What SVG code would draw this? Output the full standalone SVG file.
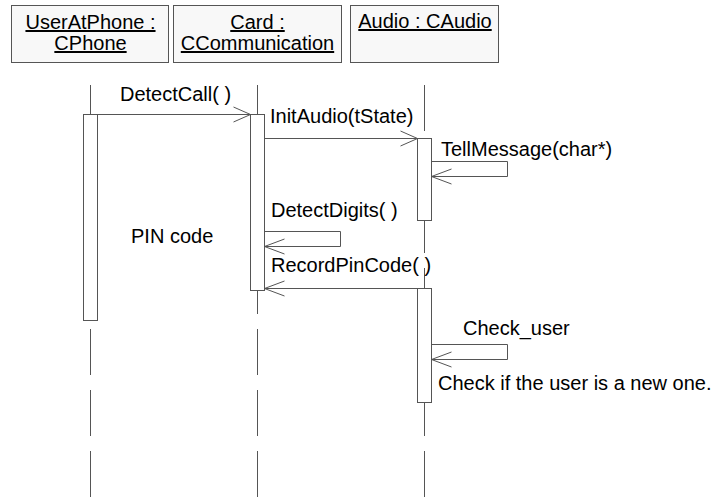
<svg xmlns="http://www.w3.org/2000/svg" width="717" height="497" viewBox="0 0 717 497">
  <style>
    .obj { fill: #f8f8f8; stroke: #555; stroke-width: 1; }
    .lbl { font-family: "Liberation Sans", Arial, sans-serif; font-size: 20px; fill: #000; }
    .name { text-decoration: underline; text-anchor: middle; }
    .life { stroke: #555; stroke-width: 1; stroke-dasharray: 46 15; fill: none; }
    .act { fill: #fff; stroke: #555; stroke-width: 1; }
    .msg { stroke: #555; stroke-width: 1; fill: none; }
    .head { stroke: #555; stroke-width: 1; fill: none; }
  </style>

  <!-- lifelines (dashed), drawn under activation bars -->
  <g id="lifelines">
    <line class="life" x1="90.5" y1="85" x2="90.5" y2="497"/>
    <line class="life" x1="257.5" y1="85" x2="257.5" y2="497"/>
    <line class="life" x1="424.5" y1="85" x2="424.5" y2="497"/>
  </g>

  <!-- objects -->
  <g id="userAtPhone">
    <rect class="obj" x="11.5" y="5.5" width="157" height="57"/>
    <text class="lbl name" x="90.5" y="29">UserAtPhone :</text>
    <text class="lbl name" x="90.5" y="50">CPhone</text>
    <rect class="act" x="83.5" y="114.5" width="14" height="206"/>
  </g>

  <g id="card">
    <rect class="obj" x="173.5" y="5.5" width="168" height="57"/>
    <text class="lbl name" x="257.5" y="29">Card :</text>
    <text class="lbl name" x="257.5" y="50">CCommunication</text>
    <rect class="act" x="250.5" y="114.5" width="14" height="176"/>
  </g>

  <g id="audio">
    <rect class="obj" x="350.5" y="5.5" width="148" height="57"/>
    <text class="lbl name" x="425" y="28">Audio : CAudio</text>
    <rect class="act" x="417.5" y="138.5" width="14" height="82"/>
    <rect class="act" x="417.5" y="288.5" width="14" height="114"/>
  </g>

  <!-- messages -->
  <g id="connectors">
    <!-- DetectCall( ) -->
    <line class="msg" x1="97.5" y1="114.5" x2="250.5" y2="114.5"/>
    <polyline class="head" points="233.5,107 250.5,114.5 233.5,122"/>
    <!-- InitAudio(tState) -->
    <line class="msg" x1="264.5" y1="138.5" x2="417.5" y2="138.5"/>
    <polyline class="head" points="400.5,131 417.5,138.5 400.5,146"/>
    <!-- TellMessage(char*) self call -->
    <polyline class="msg" points="431.5,161.5 507.5,161.5 507.5,176.5 431.5,176.5"/>
    <polyline class="head" points="451.5,169 431.5,176.5 451.5,184"/>
    <!-- DetectDigits( ) self call -->
    <polyline class="msg" points="264.5,231.5 340.5,231.5 340.5,246.5 264.5,246.5"/>
    <polyline class="head" points="284.5,239 264.5,246.5 284.5,254"/>
    <!-- RecordPinCode( ) return -->
    <line class="msg" x1="417.5" y1="288.5" x2="264.5" y2="288.5"/>
    <polyline class="head" points="284.5,281 264.5,288.5 284.5,296"/>
    <!-- Check_user self call -->
    <polyline class="msg" points="431.5,344.5 507.5,344.5 507.5,359.5 431.5,359.5"/>
    <polyline class="head" points="451.5,352 431.5,359.5 451.5,367"/>
  </g>

  <!-- message labels and notes -->
  <g id="labels">
    <text class="lbl" x="120" y="101">DetectCall( )</text>
    <text class="lbl" x="270" y="123">InitAudio(tState)</text>
    <text class="lbl" x="441" y="156">TellMessage(char*)</text>
    <text class="lbl" x="271" y="217">DetectDigits( )</text>
    <text class="lbl" x="131" y="243">PIN code</text>
    <text class="lbl" x="271" y="272">RecordPinCode( )</text>
    <text class="lbl" x="463" y="335">Check_user</text>
    <text class="lbl" x="438" y="390">Check if the user is a new one.</text>
  </g>
</svg>
